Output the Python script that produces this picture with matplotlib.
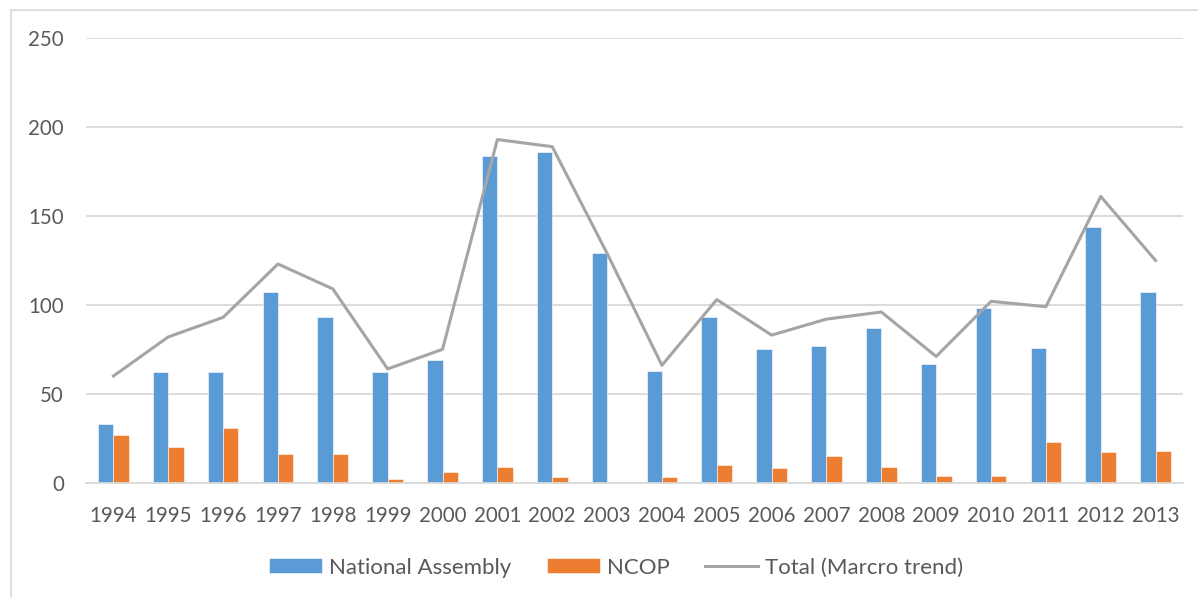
import numpy as np
import matplotlib
matplotlib.use("Agg")
import matplotlib.pyplot as plt
from matplotlib.lines import Line2D

plt.rcParams['font.family'] = ['Lato', 'DejaVu Sans']

# Data
years = ['1994', '1995', '1996', '1997', '1998', '1999', '2000', '2001', '2002', '2003',
         '2004', '2005', '2006', '2007', '2008', '2009', '2010', '2011', '2012', '2013']
national_assembly = [33, 62, 62, 107, 93, 62, 69, 184, 186, 129,
                     63, 93, 75, 77, 87, 67, 98, 76, 144, 107]
ncop = [27, 20, 31, 16, 16, 2, 6, 9, 3, 0,
        3, 10, 8, 15, 9, 4, 4, 23, 17, 18]
total = [60, 82, 93, 123, 109, 64, 75, 193, 189, 129,
         66, 103, 83, 92, 96, 71, 102, 99, 161, 125]

blue = '#5B9BD5'
orange = '#ED7D31'
grey = '#A5A5A5'
text_col = '#595959'
grid_col = '#D9D9D9'

fig = plt.figure(figsize=(11.98, 5.97), dpi=100)
ax = fig.add_axes([86 / 1198, 1 - 482.7 / 597, (1183 - 86) / 1198, (482.7 - 38.2) / 597])

x = np.arange(len(years))
w = 0.28
b1 = ax.bar(x - w / 2, national_assembly, w, color=blue, edgecolor='white', linewidth=0.4,
            label='National Assembly', zorder=2)
b2 = ax.bar(x + w / 2, ncop, w, color=orange, edgecolor='white', linewidth=0.4,
            label='NCOP', zorder=2)
ln, = ax.plot(x, total, color=grey, linewidth=2.2, label='Total (Marcro trend)', zorder=3)

ax.set_xlim(-0.5, len(years) - 0.5)
ax.set_ylim(0, 250)
ax.set_yticks(range(0, 251, 50))
ax.set_xticks(x)
ax.set_xticklabels(years)

ax.grid(axis='y', color=grid_col, linewidth=1.3, zorder=0)
ax.set_axisbelow(True)
for s in ['top', 'right', 'left']:
    ax.spines[s].set_visible(False)
ax.spines['bottom'].set_color(grid_col)
ax.spines['bottom'].set_linewidth(1.3)
ax.tick_params(axis='both', length=0, labelsize=14.8, colors=text_col)
ax.tick_params(axis='y', pad=16)
ax.tick_params(axis='x', pad=17)

fig.legend(handles=[b1, b2, ln], loc='center', bbox_to_anchor=(616 / 1198, 1 - 567.7 / 597),
           ncol=3, frameon=False, fontsize=16, labelcolor=text_col, handlelength=2.4,
           handleheight=0.65, handletextpad=0.3, columnspacing=1.6)

# chart area border (left and top visible)
fig.add_artist(Line2D([10.5 / 1198, 10.5 / 1198], [0, 1 - 9.5 / 597], color=grid_col, lw=1.2))
fig.add_artist(Line2D([10.5 / 1198, 1], [1 - 9.5 / 597, 1 - 9.5 / 597], color=grid_col, lw=1.2))

fig.savefig('out.png', dpi=100)
